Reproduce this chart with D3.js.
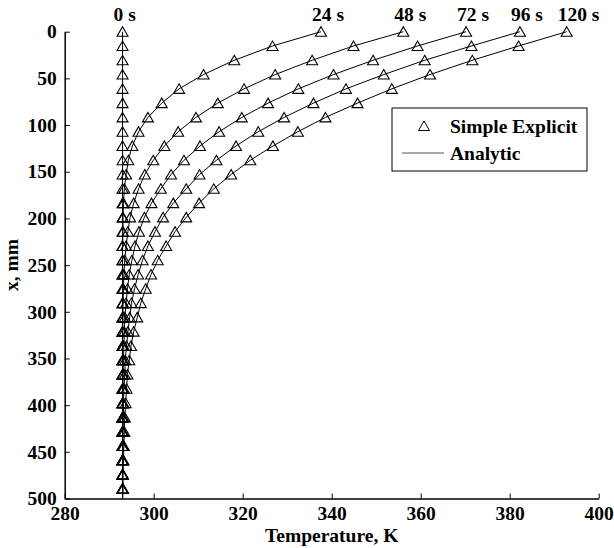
<!DOCTYPE html>
<html>
<head>
<meta charset="utf-8">
<script src="https://cdn.jsdelivr.net/npm/d3@7"></script>
<style>
  body { margin: 0; background: #fff; }
  text { font-family: "Liberation Serif", "Times New Roman", serif; font-weight: bold; }
</style>
</head>
<body>
<div id="chart"></div>
<script>
// depth below the surface, mm (last row is only used by the analytic line)
var depth = [0, 15.3, 30.6, 45.9, 61.2, 76.5, 91.8, 107.1, 122.4, 137.7, 153, 168.3, 183.6, 198.9, 214.2,
    229.5, 244.8, 260.1, 275.4, 290.7, 306, 321.3, 336.6, 351.9, 367.2, 382.5, 397.8, 413.1, 428.4,
    443.7, 459, 474.3, 489.6, 500];

// temperature profiles, K
var temp0 = [293.0, 293.0, 293.0, 293.0, 293.0, 293.0, 293.0, 293.0, 293.0, 293.0, 293.0, 293.0, 293.0,
    293.0, 293.0, 293.0, 293.0, 293.0, 293.0, 293.0, 293.0, 293.0, 293.0, 293.0, 293.0, 293.0, 293.0,
    293.0, 293.0, 293.0, 293.0, 293.0, 293.0, 293.0];
var temp24 = [337.6, 326.7, 318.1, 311.2, 305.7, 301.8, 298.7, 296.6, 295.2, 294.3, 293.8, 293.4, 293.2,
    293.1, 293.1, 293.0, 293.0, 293.0, 293.0, 293.0, 293.0, 293.0, 293.0, 293.0, 293.0, 293.0, 293.0,
    293.0, 293.0, 293.0, 293.0, 293.0, 293.0, 293.0];
var temp48 = [356.1, 344.9, 335.6, 327.3, 320.3, 314.4, 309.5, 305.5, 302.4, 299.9, 298.0, 296.6, 295.5,
    294.7, 294.2, 293.8, 293.5, 293.3, 293.2, 293.1, 293.1, 293.0, 293.0, 293.0, 293.0, 293.0, 293.0,
    293.0, 293.0, 293.0, 293.0, 293.0, 293.0, 293.0];
var temp72 = [370.2, 359.3, 349.3, 340.4, 332.5, 325.7, 319.8, 314.7, 310.4, 306.8, 303.9, 301.6, 299.5,
    297.9, 296.7, 295.8, 295.1, 294.5, 294.1, 293.8, 293.5, 293.4, 293.3, 293.2, 293.1, 293.1, 293.0,
    293.0, 293.0, 293.0, 293.0, 293.0, 293.0, 293.0];
var temp96 = [382.3, 371.4, 360.9, 351.7, 343.2, 335.9, 329.3, 323.5, 318.5, 314.1, 310.3, 307.3, 304.4,
    302.1, 300.3, 298.7, 297.5, 296.5, 295.7, 295.0, 294.6, 294.2, 293.9, 293.6, 293.5, 293.3, 293.2,
    293.2, 293.1, 293.1, 293.0, 293.0, 293.0, 293.0];
var temp120 = [392.8, 382.0, 371.6, 362.1, 353.5, 345.8, 338.6, 332.4, 326.8, 321.7, 317.4, 313.5, 310.2,
    307.3, 304.8, 302.8, 300.9, 299.4, 298.2, 297.1, 296.3, 295.5, 294.9, 294.5, 294.1, 293.9, 293.7,
    293.5, 293.4, 293.3, 293.2, 293.1, 293.1, 293.0];

var timeLabels = ["0 s", "24 s", "48 s", "72 s", "96 s", "120 s"];
var series = [temp0, temp24, temp48, temp72, temp96, temp120];

var xTicks = [280, 300, 320, 340, 360, 380, 400];
var yTicks = [0, 50, 100, 150, 200, 250, 300, 350, 400, 450, 500];
var legendLabels = ["Simple Explicit", "Analytic"];

var w = 614, h = 548;
var margin = { left: 64.7, right: 15.3, top: 31.7, bottom: 49.5 };

var svg = d3.select("#chart").append("svg")
    .attr("width", w)
    .attr("height", h)
    .style("background", "#fff");

var x = d3.scaleLinear().domain([280, 400]).range([margin.left, w - margin.right]);
var y = d3.scaleLinear().domain([0, 500]).range([margin.top, h - margin.bottom]);

// axes (ticks point inward, no box)
var xAxis = svg.append("g")
    .attr("transform", "translate(0," + (h - margin.bottom) + ")")
    .call(d3.axisBottom(x).tickValues(xTicks).tickSize(-5).tickSizeOuter(0).tickPadding(8));
var yAxis = svg.append("g")
    .attr("transform", "translate(" + margin.left + ",0)")
    .call(d3.axisLeft(y).tickValues(yTicks).tickSize(-5).tickSizeOuter(0).tickPadding(8));

[xAxis, yAxis].forEach(function (a) {
    a.select(".domain").attr("stroke", "#000").attr("stroke-width", 1.5);
    a.selectAll(".tick line").attr("stroke", "#000").attr("stroke-width", 1);
    a.selectAll(".tick text")
        .attr("fill", "#000")
        .style("font-family", "'Liberation Serif', 'Times New Roman', serif")
        .style("font-weight", "bold")
        .style("font-size", "19.5px");
});

// axis titles
svg.append("text")
    .attr("x", (margin.left + w - margin.right) / 2)
    .attr("y", 542)
    .attr("text-anchor", "middle")
    .style("font-size", "19.5px")
    .text("Temperature, K");
svg.append("text")
    .attr("transform", "translate(18," + (margin.top + h - margin.bottom) / 2 + ") rotate(-90)")
    .attr("text-anchor", "middle")
    .style("font-size", "19.5px")
    .text("x, mm");

// analytic lines
var line = d3.line()
    .x(function (d) { return x(d[1]); })
    .y(function (d) { return y(d[0]); });

var triangle = "M0,-5L5.5,4.5L-5.5,4.5Z";

series.forEach(function (s, i) {
    var pts = depth.map(function (d, j) { return [d, s[j]]; });
    svg.append("path")
        .datum(pts)
        .attr("d", line)
        .attr("fill", "none")
        .attr("stroke", "#000")
        .attr("stroke-width", 1);

    // explicit solution nodes (boundary node at 500 mm not shown)
    svg.append("g").selectAll("path")
        .data(pts.filter(function (p) { return p[0] < 500; }))
        .enter()
        .append("path")
        .attr("d", triangle)
        .attr("transform", function (p) { return "translate(" + x(p[1]) + "," + y(p[0]) + ")"; })
        .attr("fill", "none")
        .attr("stroke", "#000")
        .attr("stroke-width", 1.1);

    svg.append("text")
        .attr("x", x(s[0]) - 9)
        .attr("y", 21)
        .style("font-size", "19.5px")
        .text(timeLabels[i]);
});

// legend
var lg = svg.append("g").attr("transform", "translate(392,108)");
lg.append("rect")
    .attr("width", 195)
    .attr("height", 63)
    .attr("fill", "#fff")
    .attr("stroke", "#000")
    .attr("stroke-width", 1);
lg.append("path")
    .attr("d", triangle)
    .attr("transform", "translate(32,18)")
    .attr("fill", "none")
    .attr("stroke", "#000");
lg.append("line")
    .attr("x1", 10).attr("x2", 52)
    .attr("y1", 45).attr("y2", 45)
    .attr("stroke", "#555")
    .attr("stroke-width", 1.2);
lg.selectAll("text.leg")
    .data(legendLabels)
    .enter()
    .append("text")
    .attr("class", "leg")
    .attr("x", 58)
    .attr("y", function (d, i) { return 25 + i * 27; })
    .style("font-size", "19.5px")
    .text(function (d) { return d; });
</script>
</body>
</html>
